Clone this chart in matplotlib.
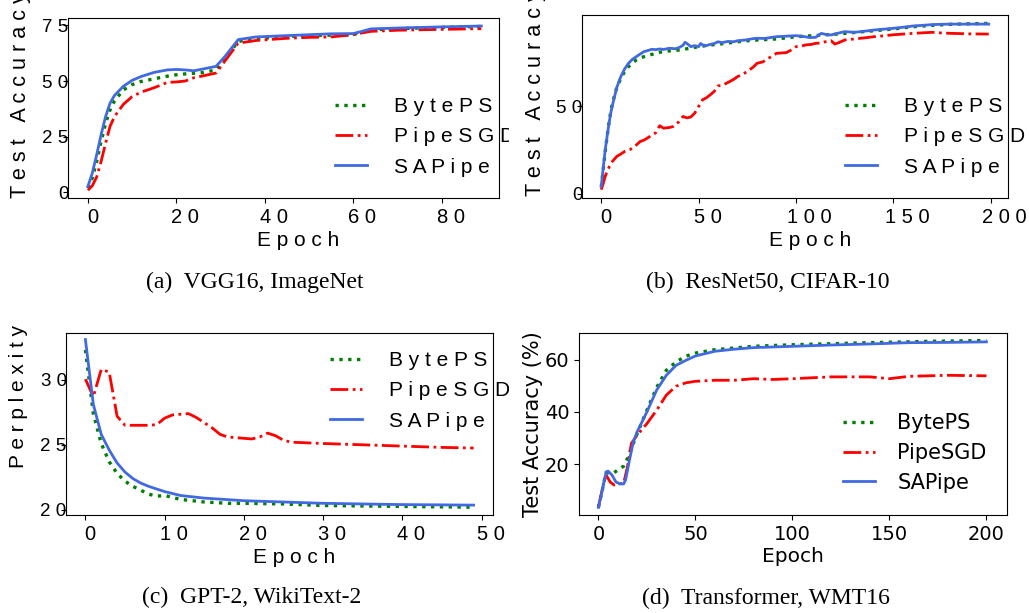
import matplotlib
matplotlib.use("Agg")
import matplotlib.pyplot as plt
from matplotlib.transforms import Bbox, TransformedBbox, ScaledTranslation

# (epoch, value) pairs
vgg_byteps = [(0, 2), (1, 6.5), (2, 14), (3, 23), (4, 31), (5, 37), (6, 41), (8, 46), (10, 48.4),
              (12, 49.8), (15, 51), (18, 52.2), (20, 52.8), (22, 53.2), (24, 53.5), (26, 53.8),
              (29, 55), (31, 60), (34, 67.8), (38, 69), (45, 70), (50, 70.4), (55, 70.6),
              (60, 70.8), (62, 72), (64, 73), (70, 73.5), (80, 74.1), (89, 74.5)]
vgg_pipesgd = [(0, 1), (1, 3), (2, 7), (3, 14), (4, 22), (5, 29.6), (6, 34), (8, 39.5), (10, 43),
               (12, 45), (15, 47), (18, 49.4), (20, 49.6), (22, 50), (24, 51.5), (26, 52.3),
               (29, 53.6), (31, 59), (34, 67), (38, 68.2), (45, 69.2), (50, 69.6), (55, 69.8),
               (60, 70.8), (62, 71.6), (64, 72.3), (70, 72.8), (80, 73.2), (89, 73.5)]
vgg_sapipe = [(0, 2.7), (1, 8.7), (2, 17), (3, 26), (4, 34), (5, 40), (6, 43.5), (8, 47.6),
              (10, 50.3), (12, 52), (15, 53.9), (18, 55), (20, 55.2), (22, 55), (24, 54.6),
              (26, 55.4), (29, 56.6), (31, 61), (34, 68.6), (38, 69.8), (45, 70.4), (50, 70.8),
              (55, 71.2), (60, 71.3), (62, 72.3), (64, 73.4), (70, 73.8), (80, 74.3), (89, 74.7)]

resnet_byteps = [(0, 4), (1, 14), (2, 24), (3, 33), (4, 41), (5, 48), (6, 53), (8, 61), (10, 66),
                 (12, 70), (14, 72.8), (16, 75), (18, 76.6), (20, 77.8), (25, 79.5), (30, 81),
                 (35, 81.8), (40, 82.3), (45, 83.2), (50, 84.2), (55, 85), (60, 85.6), (65, 86.3),
                 (70, 87), (75, 87.6), (80, 88), (90, 88.6), (100, 89.9), (110, 90.6), (120, 91.3),
                 (130, 92.3), (140, 93.3), (150, 94.3), (160, 95.6), (170, 96.4), (180, 97),
                 (190, 97.3), (199, 97.5)]
resnet_pipesgd = [(0, 2.5), (1, 6), (2, 10), (3, 13), (5, 17.7), (8, 21.5), (10, 22.8), (12, 24.3),
                  (15, 25.5), (18, 28), (20, 30), (22, 30.8), (25, 32.9), (28, 35), (30, 39),
                  (32, 37.6), (35, 38), (37, 38.6), (40, 41.4), (42, 44.3), (44, 43.5), (46, 44),
                  (48, 46.2), (50, 50), (52, 53.8), (54, 55), (56, 56.7), (58, 58.6), (60, 61.8),
                  (62, 62), (65, 63.7), (68, 65.5), (70, 67.1), (72, 68), (75, 70), (78, 72.5),
                  (80, 74.7), (83, 75.5), (85, 77), (88, 79), (90, 80.4), (95, 80.8), (98, 82.5),
                  (100, 84.2), (103, 84.6), (105, 85.2), (108, 85.5), (110, 86.1), (113, 86.3),
                  (115, 87), (118, 87.6), (120, 85.7), (122, 86.5), (125, 88), (130, 88.6),
                  (135, 89.2), (140, 89.9), (145, 90.4), (150, 91), (155, 91.4), (160, 91.8),
                  (165, 92.1), (170, 92.4), (175, 92), (180, 91.8), (190, 91.5), (199, 91.4)]
resnet_sapipe = [(0, 4.4), (1, 15), (2, 25), (3, 33), (4, 40.5), (5, 47), (6, 52), (8, 61),
                 (10, 67), (12, 71.5), (14, 74.7), (16, 77), (18, 78.5), (20, 80), (22, 81.4),
                 (24, 82), (26, 82.7), (28, 82.5), (30, 82.9), (32, 82.6), (35, 83.3), (38, 83),
                 (40, 83.7), (42, 85), (43, 86.7), (44, 86), (46, 84.2), (48, 84.8), (50, 84.2),
                 (51, 86), (52, 85.2), (54, 84.8), (56, 85.5), (58, 86), (60, 87), (62, 86.5),
                 (65, 87.2), (68, 87), (70, 87.6), (74, 88), (78, 88.8), (80, 89), (84, 88.9),
                 (88, 89.6), (90, 89.9), (95, 90.2), (100, 90.5), (104, 90), (107, 89.4),
                 (110, 89.5), (113, 91.8), (116, 91), (118, 90.9), (122, 92), (125, 92.8),
                 (130, 92.4), (135, 93), (140, 93.7), (145, 94.2), (150, 94.7), (155, 95.3),
                 (160, 96), (165, 96.4), (170, 96.8), (175, 97), (180, 97.1), (190, 97.1), (199, 97.1)]

gpt_byteps = [(0, 32.3), (1, 27.4), (2, 25.1), (3, 23.7), (4, 22.8), (5, 22.2), (6, 21.8), (7, 21.5),
              (8, 21.2), (9, 21.05), (10, 21.1), (12, 20.8), (15, 20.6), (18, 20.5), (20, 20.5),
              (25, 20.45), (30, 20.33), (40, 20.26), (49, 20.2)]
gpt_pipesgd = [(0, 30.05), (1, 28.7), (2, 30.8), (3, 30.6), (4, 27.2), (5, 26.5), (6, 26.5),
               (8, 26.5), (9, 26.55), (10, 27.05), (11, 27.3), (13, 27.4), (14, 27.1), (16, 26.3),
               (17, 25.8), (18, 25.6), (20, 25.5), (21, 25.45), (22, 25.6), (23, 25.9), (24, 25.7),
               (25, 25.35), (26, 25.2), (30, 25.1), (35, 25.0), (40, 24.9), (45, 24.8), (49, 24.75)]
gpt_sapipe = [(0, 33.1), (1, 28.1), (2, 25.8), (3, 24.6), (4, 23.6), (5, 22.9), (6, 22.4), (7, 22.05),
              (8, 21.8), (10, 21.4), (12, 21.1), (15, 20.9), (20, 20.7), (25, 20.6), (30, 20.5),
              (35, 20.45), (40, 20.4), (45, 20.38), (49, 20.36)]

wmt_byteps = [(0, 3.4), (2, 10), (4, 16.8), (6, 16.4), (8, 16.7), (10, 17.7), (13, 19.2), (15, 22.2),
              (18, 27.9), (20, 31.7), (25, 40.6), (30, 49.3), (35, 55.9), (40, 59.1), (45, 61.3),
              (50, 62.5), (60, 63.8), (80, 65.1), (100, 65.7), (140, 66.5), (170, 67), (200, 67.3)]
wmt_pipesgd = [(0, 3.4), (3, 13.9), (4, 15.8), (6, 13.2), (8, 12), (10, 12.4), (13, 12.6), (15, 19),
               (17, 27.9), (20, 31.1), (25, 35.5), (30, 40.6), (35, 46.4), (40, 49.8), (45, 51.1),
               (50, 51.7), (60, 52.1), (70, 52.1), (80, 52.7), (90, 52.4), (100, 52.7), (120, 53.4),
               (140, 53.4), (150, 52.7), (160, 53.6), (180, 54), (200, 53.8)]
wmt_sapipe = [(0, 3.4), (2, 10), (4, 17), (5, 17.3), (7, 15.8), (9, 13.2), (11, 12.4), (13, 12.4),
              (14, 13.9), (16, 21.5), (18, 28.5), (20, 32.4), (25, 40), (30, 48.3), (35, 54),
              (40, 57.8), (45, 59.7), (50, 61.4), (60, 63.2), (70, 64), (80, 64.6), (100, 65.1),
              (120, 65.6), (140, 66), (160, 66.5), (180, 66.6), (200, 66.8)]

series_names = ["BytePS", "PipeSGD", "SAPipe"]
captions = ["(a)  VGG16, ImageNet", "(b)  ResNet50, CIFAR-10",
            "(c)  GPT-2, WikiText-2", "(d)  Transformer, WMT16"]

W, H = 1029, 613
fig = plt.figure(figsize=(W / 100, H / 100), dpi=100)


def add_axes(left, top, right, bottom):
    return fig.add_axes([left / W, (H - bottom) / H, (right - left) / W, (bottom - top) / H])


def spaced(s):
    # the PDF text in panels a-c is letter-spaced
    return " ".join(s)


def draw(ax, data, lw=2.0):
    styles = [dict(color="green", ls=":", lw=2.4),
              dict(color="red", ls="-.", lw=lw),
              dict(color="#4169e1", ls="-", lw=lw)]
    for pts, name, st in zip(data, series_names, styles):
        xs = [p[0] for p in pts]
        ys = [p[1] for p in pts]
        ax.plot(xs, ys, label=name, **st)


SANS = "Liberation Sans"

panels = [
    dict(box=(68, 18, 499, 198), data=[vgg_byteps, vgg_pipesgd, vgg_sapipe],
         xlim=(-4.5, 93), ylim=(-2.5, 78.3), xt=[0, 20, 40, 60, 80], yt=[0, 25, 50, 75],
         ylabel="Test Accuracy (%)", ylsize=15.6, ylab_pos=(-0.111, 0.0), leg=(335, 137), clip=509),
    dict(box=(582, 15, 1008, 198), data=[resnet_byteps, resnet_pipesgd, resnet_sapipe],
         xlim=(-9.9, 208.9), ylim=(-2.3, 102.3), xt=[0, 50, 100, 150, 200], yt=[0, 50],
         ylabel="Test Accuracy (%)", ylsize=15.6, ylab_pos=(-0.110, 0.01), leg=(845, 137), clip=None),
    dict(box=(66, 333, 493, 515), data=[gpt_byteps, gpt_pipesgd, gpt_sapipe],
         xlim=(-2.45, 51.45), ylim=(19.6, 33.6), xt=[0, 10, 20, 30, 40, 50], yt=[20, 25, 30],
         ylabel="Perplexity", ylsize=15, ylab_pos=(-0.112, 0.258), leg=(330, 391), clip=509),
]

for p in panels:
    ax = add_axes(*p["box"])
    draw(ax, p["data"])
    ax.set_xlim(*p["xlim"])
    ax.set_ylim(*p["ylim"])
    ax.set_xticks(p["xt"], [spaced(str(v)) for v in p["xt"]], fontsize=14.5, family=SANS)
    ax.set_yticks(p["yt"], [spaced(str(v)) for v in p["yt"]], fontsize=13.5, family=SANS)
    ax.tick_params(axis="y", pad=-4)
    # letter spacing pushes the tick numbers a little to the right
    for lbl, v in zip(ax.get_xticklabels(), p["xt"]):
        lbl.set_transform(lbl.get_transform()
                          + ScaledTranslation(4.5 * len(str(v)) / 100, 0, fig.dpi_scale_trans))
    ax.set_xlabel(spaced("Epoch"), fontsize=15, family=SANS, labelpad=0)
    ax.xaxis.set_label_coords(0.535, -0.181)
    lab = ax.set_ylabel(spaced(p["ylabel"]), fontsize=p["ylsize"], family=SANS)
    lab.set_ha("left")
    lab.set_va("center")
    ax.yaxis.set_label_coords(*p["ylab_pos"])
    bx, by = p["leg"]
    leg = ax.legend(loc="center left", bbox_to_anchor=(bx / W, 1 - by / H),
                    bbox_transform=fig.transFigure, frameon=False, borderpad=0,
                    borderaxespad=0, handlelength=1.55, handletextpad=1.3, labelspacing=0.54,
                    prop={"family": SANS, "size": 15})
    for t in leg.get_texts():
        t.set_text(spaced(t.get_text()))
        if p["clip"]:
            t.set_clip_on(True)
            t.set_clip_box(TransformedBbox(Bbox([[0, 0], [p["clip"] / W, 1]]), fig.transFigure))

# panel d uses the default font without letter spacing
ax = add_axes(579, 333, 1007, 515)
draw(ax, [wmt_byteps, wmt_pipesgd, wmt_sapipe])
ax.set_xlim(-10, 210.6)
ax.set_ylim(0.5, 70.2)
ax.set_xticks([0, 50, 100, 150, 200])
ax.set_yticks([20, 40, 60])
ax.tick_params(labelsize=14)
ax.set_xlabel("Epoch", fontsize=14.5, labelpad=2)
ax.set_ylabel("Test Accuracy (%)", fontsize=15, labelpad=1)
ax.legend(loc="center left", bbox_to_anchor=(843 / W, 1 - 453 / H), bbox_transform=fig.transFigure,
          frameon=False, borderpad=0, borderaxespad=0, handlelength=1.54, handletextpad=1.06,
          labelspacing=0.47, fontsize=15)

cap_pos = [(255, 282), (768, 282), (252, 597), (766, 598)]
for text, (cx, cy) in zip(captions, cap_pos):
    fig.text(cx / W, 1 - cy / H, text, ha="center", va="center", family="Liberation Serif", fontsize=17)

fig.savefig("out.png", dpi=100)
